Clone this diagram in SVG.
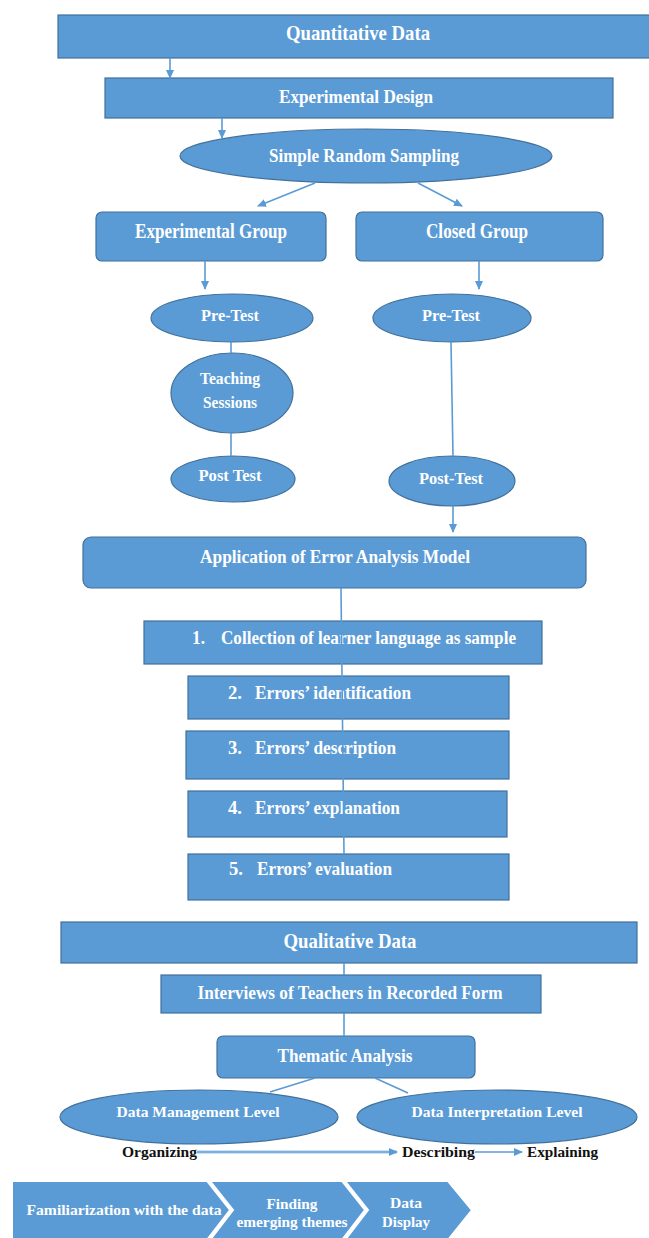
<svg xmlns="http://www.w3.org/2000/svg" width="649" height="1238" viewBox="0 0 649 1238">
<style>
.n{fill:#5B9BD5;stroke:#41719C;stroke-width:1.2}
.t{font-family:"Liberation Serif",serif;font-weight:bold;fill:#fff;text-anchor:middle}
.ts{font-family:"Liberation Serif",serif;font-weight:bold;fill:#fff}
.b{font-family:"Liberation Serif",serif;font-weight:bold;fill:#111}
.c{stroke:#5B9BD5;stroke-width:1.6;fill:none}
.chev{fill:#5B9BD5;stroke:#fff;stroke-width:2}
</style>
<defs>
<marker id="ah" markerWidth="9" markerHeight="9" refX="8" refY="4.5" orient="auto" markerUnits="userSpaceOnUse">
<path d="M0,0.5 L9,4.5 L0,8.5 z" fill="#5B9BD5"/>
</marker>
</defs>
<rect width="649" height="1238" fill="#fff"/>

<g id="quantitative-data"><rect class="n" x="58" y="15" width="593" height="43"/><text class="t" x="358" y="40" font-size="21" textLength="144" lengthAdjust="spacingAndGlyphs">Quantitative Data</text></g>
<g id="experimental-design"><rect class="n" x="105" y="78" width="508" height="40"/><text class="t" x="356" y="102.5" font-size="18" textLength="154" lengthAdjust="spacingAndGlyphs">Experimental Design</text></g>
<g id="simple-random-sampling"><ellipse class="n" cx="366" cy="156" rx="186" ry="27"/><text class="t" x="364" y="161.5" font-size="18" textLength="190" lengthAdjust="spacingAndGlyphs">Simple Random Sampling</text></g>
<g id="experimental-group"><rect class="n" x="96" y="212" width="230" height="49" rx="6"/><text class="t" x="211" y="238" font-size="20" textLength="152" lengthAdjust="spacingAndGlyphs">Experimental Group</text></g>
<g id="closed-group"><rect class="n" x="356" y="212" width="247" height="49" rx="6"/><text class="t" x="477" y="238" font-size="20" textLength="102" lengthAdjust="spacingAndGlyphs">Closed Group</text></g>
<g id="pre-test-exp"><ellipse class="n" cx="232" cy="318" rx="81" ry="24"/><text class="t" x="230" y="320.5" font-size="16" textLength="58" lengthAdjust="spacingAndGlyphs">Pre-Test</text></g>
<g id="pre-test-closed"><ellipse class="n" cx="452" cy="318" rx="79" ry="24"/><text class="t" x="451" y="320.5" font-size="16" textLength="58" lengthAdjust="spacingAndGlyphs">Pre-Test</text></g>
<g id="teaching-sessions"><ellipse class="n" cx="232" cy="393" rx="61" ry="40"/><text class="t" x="230" y="383.5" font-size="16" textLength="60" lengthAdjust="spacingAndGlyphs">Teaching</text><text class="t" x="230" y="407.5" font-size="16" textLength="54" lengthAdjust="spacingAndGlyphs">Sessions</text></g>
<g id="post-test-exp"><ellipse class="n" cx="233" cy="479" rx="62" ry="23"/><text class="t" x="230" y="480.5" font-size="16" textLength="63" lengthAdjust="spacingAndGlyphs">Post Test</text></g>
<g id="post-test-closed"><ellipse class="n" cx="452" cy="481" rx="63" ry="25"/><text class="t" x="451" y="483.5" font-size="16" textLength="64" lengthAdjust="spacingAndGlyphs">Post-Test</text></g>
<g id="error-analysis-model"><rect class="n" x="83" y="537" width="503" height="51" rx="8"/><text class="t" x="335" y="562.5" font-size="18" textLength="270" lengthAdjust="spacingAndGlyphs">Application of Error Analysis Model</text></g>
<g id="step-1"><rect class="n" x="144" y="621" width="398" height="43"/><text class="ts" x="192" y="643.5" font-size="18" textLength="13" lengthAdjust="spacingAndGlyphs">1.</text><text class="ts" x="221" y="643.5" font-size="18" textLength="295" lengthAdjust="spacingAndGlyphs">Collection of learner language as sample</text></g>
<g id="step-2"><rect class="n" x="188" y="676" width="321" height="43"/><text class="ts" x="228" y="698.5" font-size="18" textLength="14" lengthAdjust="spacingAndGlyphs">2.</text><text class="ts" x="255" y="698.5" font-size="18" textLength="156" lengthAdjust="spacingAndGlyphs">Errors’ identification</text></g>
<g id="step-3"><rect class="n" x="186" y="731" width="323" height="48"/><text class="ts" x="228" y="753.5" font-size="18" textLength="14" lengthAdjust="spacingAndGlyphs">3.</text><text class="ts" x="255" y="753.5" font-size="18" textLength="141" lengthAdjust="spacingAndGlyphs">Errors’ description</text></g>
<g id="step-4"><rect class="n" x="188" y="791" width="319" height="46"/><text class="ts" x="228" y="813.5" font-size="18" textLength="14" lengthAdjust="spacingAndGlyphs">4.</text><text class="ts" x="255" y="813.5" font-size="18" textLength="145" lengthAdjust="spacingAndGlyphs">Errors’ explanation</text></g>
<g id="step-5"><rect class="n" x="188" y="854" width="321" height="46"/><text class="ts" x="229" y="874.5" font-size="18" textLength="14" lengthAdjust="spacingAndGlyphs">5.</text><text class="ts" x="257" y="874.5" font-size="18" textLength="135" lengthAdjust="spacingAndGlyphs">Errors’ evaluation</text></g>
<g id="qualitative-data"><rect class="n" x="61" y="922" width="576" height="41"/><text class="t" x="350" y="948" font-size="21" textLength="133" lengthAdjust="spacingAndGlyphs">Qualitative Data</text></g>
<g id="interviews"><rect class="n" x="161" y="975" width="380" height="38"/><text class="t" x="350" y="998.5" font-size="18" textLength="305" lengthAdjust="spacingAndGlyphs">Interviews of Teachers in Recorded Form</text></g>
<g id="thematic-analysis"><rect class="n" x="217" y="1036" width="258" height="42" rx="6"/><text class="t" x="345" y="1061.5" font-size="18" textLength="135" lengthAdjust="spacingAndGlyphs">Thematic Analysis</text></g>
<g id="data-management-level"><ellipse class="n" cx="199" cy="1117" rx="139" ry="27"/><text class="t" x="198" y="1116.5" font-size="15" textLength="163" lengthAdjust="spacingAndGlyphs">Data Management Level</text></g>
<g id="data-interpretation-level"><ellipse class="n" cx="497" cy="1117" rx="140" ry="27"/><text class="t" x="497" y="1116.5" font-size="15" textLength="171" lengthAdjust="spacingAndGlyphs">Data Interpretation Level</text></g>
<g id="organizing"><text class="b" x="122" y="1156.5" font-size="15" textLength="75" lengthAdjust="spacingAndGlyphs">Organizing</text></g>
<g id="describing"><text class="b" x="402" y="1156.5" font-size="15" textLength="73" lengthAdjust="spacingAndGlyphs">Describing</text></g>
<g id="explaining"><text class="b" x="527" y="1156.5" font-size="15" textLength="71" lengthAdjust="spacingAndGlyphs">Explaining</text></g>
<g id="familiarization"><polygon class="chev" points="12,1181 207,1181 230,1210 207,1240 12,1240"/><text class="t" x="124" y="1215" font-size="14" textLength="195" lengthAdjust="spacingAndGlyphs">Familiarization with the data</text></g>
<g id="finding-themes"><polygon class="chev" points="210,1181 342,1181 365,1210 342,1240 210,1240 233,1210"/><text class="t" x="292" y="1209" font-size="14" textLength="51" lengthAdjust="spacingAndGlyphs">Finding</text><text class="t" x="292" y="1227" font-size="14" textLength="111" lengthAdjust="spacingAndGlyphs">emerging themes</text></g>
<g id="data-display"><polygon class="chev" points="345,1181 448,1181 472,1210 448,1240 345,1240 368,1210"/><text class="t" x="406" y="1208" font-size="14" textLength="32" lengthAdjust="spacingAndGlyphs">Data</text><text class="t" x="406" y="1227" font-size="14" textLength="48" lengthAdjust="spacingAndGlyphs">Display</text></g>

<g id="connectors">
<line class="c" x1="170" y1="58" x2="170" y2="78" marker-end="url(#ah)"/>
<line class="c" x1="222" y1="118" x2="222" y2="138" marker-end="url(#ah)"/>
<line class="c" x1="315" y1="183" x2="258" y2="206" marker-end="url(#ah)"/>
<line class="c" x1="418" y1="183" x2="462" y2="206" marker-end="url(#ah)"/>
<line class="c" x1="205" y1="261" x2="205" y2="289" marker-end="url(#ah)"/>
<line class="c" x1="479" y1="261" x2="479" y2="289" marker-end="url(#ah)"/>
<line class="c" x1="231" y1="342" x2="231" y2="353"/>
<line class="c" x1="231" y1="433" x2="231" y2="456"/>
<line class="c" x1="451" y1="342" x2="453" y2="456"/>
<line class="c" x1="453" y1="506" x2="453" y2="532" marker-end="url(#ah)"/>
<line class="c" x1="341" y1="588" x2="344" y2="854"/>
<line class="c" x1="344" y1="963" x2="344" y2="975"/>
<line class="c" x1="344" y1="1013" x2="344" y2="1036"/>
<line class="c" x1="315" y1="1078" x2="270" y2="1092"/>
<line class="c" x1="375" y1="1078" x2="408" y2="1093"/>
<line x1="197" y1="1152" x2="397" y2="1152" stroke="#9DC3E6" stroke-width="3" marker-end="url(#ah)"/>
<line x1="197" y1="1152" x2="390" y2="1152" stroke="#5B9BD5" stroke-width="1"/>
<line class="c" x1="475" y1="1152" x2="522" y2="1152" marker-end="url(#ah)"/>
</g>
</svg>
